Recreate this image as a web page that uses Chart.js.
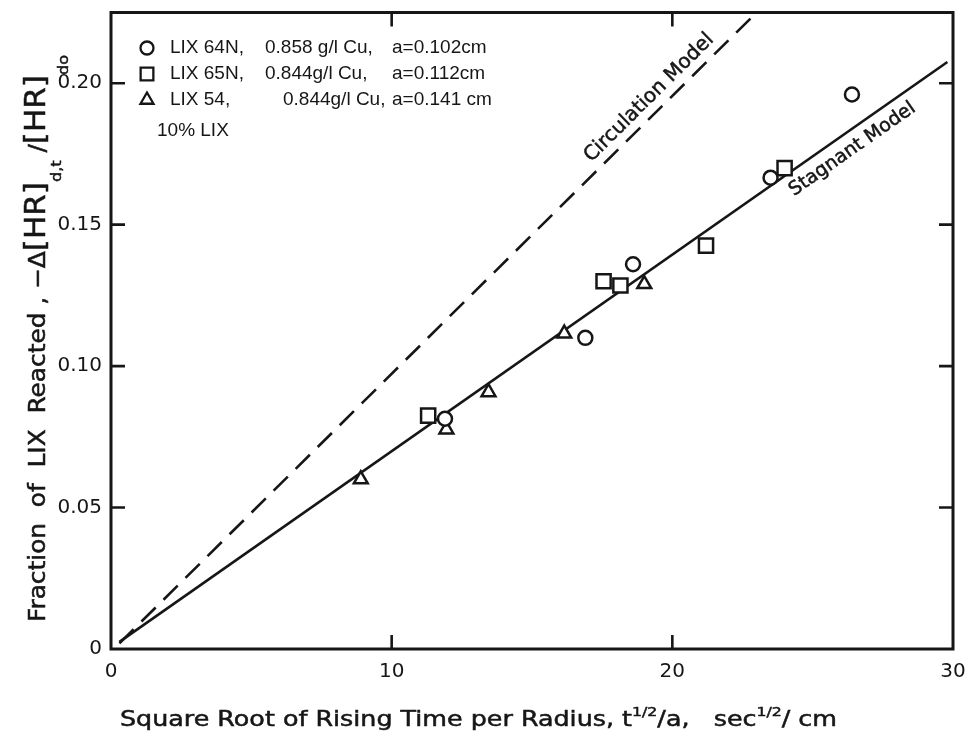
<!DOCTYPE html>
<html>
<head>
<meta charset="utf-8">
<script src="https://cdn.jsdelivr.net/npm/chart.js@4.4.1/dist/chart.umd.min.js"></script>
<style>
  html, body { margin: 0; padding: 0; background: #ffffff; }
  #wrap { width: 974px; height: 737px; }
</style>
</head>
<body>
<div id="wrap"><canvas id="c" width="974" height="737"></canvas></div>
<script>
// Axis ticks
const xTicks = [0, 10, 20, 30];
const xTickLabels = ['0', '10', '20', '30'];
const yTicks = [0, 0.05, 0.10, 0.15, 0.20];
const yTickLabels = ['0', '0.05', '0.10', '0.15', '0.20'];

// LIX 64N, 0.858 g/l Cu, a = 0.102 cm
const lix64nX = [11.9, 16.9, 18.6, 23.5, 26.4];
const lix64nY = [0.0814, 0.110, 0.136, 0.1666, 0.196];
// LIX 65N, 0.844 g/l Cu, a = 0.112 cm
const lix65nX = [11.3, 17.55, 18.15, 21.2, 24.0];
const lix65nY = [0.0825, 0.130, 0.1285, 0.1426, 0.170];
// LIX 54, 0.844 g/l Cu, a = 0.141 cm
const lix54X = [8.9, 11.95, 13.45, 16.15, 19.0];
const lix54Y = [0.060, 0.0776, 0.0908, 0.1115, 0.129];

// Model lines (end points)
const stagnantX = [0.3, 29.8];
const stagnantY = [0.0025, 0.2075];
const circulationX = [0.3, 22.95];
const circulationY = [0.002, 0.2245];

const INK = '#161616';
const FONT = '"Liberation Sans", Arial, sans-serif';
const TFONT = '"DejaVu Sans", "Liberation Sans", sans-serif';

const pts = (xs, ys) => xs.map((x, i) => ({ x: x, y: ys[i] }));

// Frame round the plot area and inward tick marks on all four sides
const framePlugin = {
  id: 'framePlugin',
  afterDatasetsDraw(chart) {
    const { ctx, chartArea: a, scales } = chart;
    ctx.save();
    ctx.strokeStyle = INK;
    ctx.lineWidth = 2.6;
    ctx.lineCap = 'butt';
    const len = 14;
    ctx.beginPath();
    xTicks.slice(1, -1).forEach(v => {
      const px = scales.x.getPixelForValue(v);
      ctx.moveTo(px, a.bottom); ctx.lineTo(px, a.bottom - len);
      ctx.moveTo(px, a.top); ctx.lineTo(px, a.top + len);
    });
    yTicks.slice(1).forEach(v => {
      const py = scales.y.getPixelForValue(v);
      ctx.moveTo(a.left, py); ctx.lineTo(a.left + len, py);
      ctx.moveTo(a.right, py); ctx.lineTo(a.right - len, py);
    });
    ctx.stroke();
    ctx.lineWidth = 3;
    ctx.strokeRect(a.left, a.top, a.right - a.left, a.bottom - a.top);
    ctx.restore();
  }
};

// Text pieces with sub/superscripts, laid out along the current x direction
function setRunFont(ctx, r, base) {
  ctx.font = base * (r.scale || 1) + 'px ' + TFONT;
}
function runsWidth(ctx, runs, base) {
  let w = 0;
  runs.forEach(r => { setRunFont(ctx, r, base); w += ctx.measureText(r.t).width; });
  return w;
}
function drawRuns(ctx, runs, base) {
  let cx = 0;
  runs.forEach(r => {
    setRunFont(ctx, r, base);
    const y = (r.dy || 0) * base;
    ctx.fillText(r.t, cx, y);
    ctx.strokeText(r.t, cx, y);
    cx += ctx.measureText(r.t).width;
  });
}
// Draw runs starting at (x, y) in a frame rotated by ang, stretched to a given length
function drawTitle(ctx, runs, base, x, y, ang, length) {
  const w = runsWidth(ctx, runs, base);
  ctx.save();
  ctx.translate(x, y);
  ctx.rotate(ang);
  ctx.scale(length / w, 1);
  ctx.lineWidth = 0.5;
  drawRuns(ctx, runs, base);
  ctx.restore();
}

const xTitleRuns = [
  { t: 'Square Root of Rising Time per Radius, t' },
  { t: '1/2', scale: 0.62, dy: -0.5 },
  { t: '/a,   sec' },
  { t: '1/2', scale: 0.62, dy: -0.5 },
  { t: '/ cm' }
];
const yTitleRuns = [
  { t: 'Fraction  of  LIX  Reacted , \u2212\u0394' },
  { t: '[HR]', scale: 1.25 },
  { t: 'd,t', scale: 0.65, dy: 0.7 },
  { t: ' /' },
  { t: '[HR]', scale: 1.25 },
  { t: 'do', scale: 0.65, dy: 1.0 }
];

const legendRows = [
  { style: 'circle', r: 6.5, parts: [['LIX 64N,', 170], ['0.858 g/l Cu,', 265], ['a=0.102cm', 392]] },
  { style: 'rect', r: 9, parts: [['LIX 65N,', 170], ['0.844g/l Cu,', 265], ['a=0.112cm', 392]] },
  { style: 'triangle', r: 7.5, parts: [['LIX 54,', 170], ['0.844g/l Cu,', 283], ['a=0.141 cm', 392]] }
];
const legendNote = '10% LIX';

const textPlugin = {
  id: 'textPlugin',
  afterDraw(chart) {
    const { ctx, scales } = chart;
    ctx.save();
    ctx.fillStyle = INK;
    ctx.strokeStyle = INK;
    ctx.textBaseline = 'alphabetic';
    ctx.textAlign = 'left';

    // axis titles
    drawTitle(ctx, xTitleRuns, 21, 120, 726, 0, 717);
    drawTitle(ctx, yTitleRuns, 23, 45, 622, -Math.PI / 2, 567);

    // legend block
    const rowY = [48, 74, 100];
    ctx.font = '19px ' + FONT;
    ctx.textBaseline = 'middle';
    ctx.lineWidth = 2.3;
    legendRows.forEach((row, i) => {
      ctx.fillStyle = '#ffffff';
      Chart.helpers.drawPoint(ctx, { pointStyle: row.style, radius: row.r, rotation: 0, borderWidth: 2.3 }, 147, rowY[i]);
      ctx.fillStyle = INK;
      row.parts.forEach(p => ctx.fillText(p[0], p[1], rowY[i]));
    });
    ctx.fillText(legendNote, 157, 131);

    // model labels along their lines
    const lineLabel = (xs, ys, atX, text, offset, size) => {
      const x0 = scales.x.getPixelForValue(xs[0]), y0 = scales.y.getPixelForValue(ys[0]);
      const x1 = scales.x.getPixelForValue(xs[1]), y1 = scales.y.getPixelForValue(ys[1]);
      const ang = Math.atan2(y1 - y0, x1 - x0);
      const f = (atX - xs[0]) / (xs[1] - xs[0]);
      ctx.save();
      ctx.translate(x0 + f * (x1 - x0), y0 + f * (y1 - y0));
      ctx.rotate(ang);
      ctx.textAlign = 'center';
      ctx.textBaseline = 'middle';
      ctx.font = size + 'px ' + TFONT;
      ctx.lineWidth = 0.5;
      ctx.fillText(text, 0, offset);
      ctx.strokeText(text, 0, offset);
      ctx.restore();
    };
    lineLabel(circulationX, circulationY, 19.55, 'Circulation Model', -15, 20);
    lineLabel(stagnantX, stagnantY, 26.07, 'Stagnant Model', 17, 19);
    ctx.restore();
  }
};

const markerBase = { backgroundColor: '#ffffff', borderColor: INK, pointBorderWidth: 2.5, showLine: false, order: 1 };

new Chart(document.getElementById('c'), {
  type: 'scatter',
  data: {
    datasets: [
      { label: 'Circulation Model', data: pts(circulationX, circulationY), showLine: true,
        borderColor: INK, borderWidth: 2.6, borderDash: [20, 11], pointRadius: 0, order: 3 },
      { label: 'Stagnant Model', data: pts(stagnantX, stagnantY), showLine: true,
        borderColor: INK, borderWidth: 2.6, pointRadius: 0, order: 2 },
      Object.assign({ label: 'LIX 64N', data: pts(lix64nX, lix64nY), pointStyle: 'circle', pointRadius: 7 }, markerBase),
      Object.assign({ label: 'LIX 65N', data: pts(lix65nX, lix65nY), pointStyle: 'rect', pointRadius: 10 }, markerBase),
      Object.assign({ label: 'LIX 54', data: pts(lix54X, lix54Y), pointStyle: 'triangle', pointRadius: 8 }, markerBase)
    ]
  },
  options: {
    responsive: false,
    devicePixelRatio: 1,
    animation: false,
    layout: { padding: { left: 0, top: 9, right: 21, bottom: 0 } },
    plugins: { legend: { display: false }, tooltip: { enabled: false } },
    scales: {
      x: {
        type: 'linear', min: 0, max: 30,
        afterBuildTicks: s => { s.ticks = xTicks.map(v => ({ value: v })); },
        afterFit: s => { s.height = 88; s.paddingLeft = 0; s.paddingRight = 0; },
        grid: { display: false, drawTicks: false },
        border: { display: false },
        ticks: { padding: 11, maxRotation: 0, color: INK, font: { family: TFONT, size: 20 },
          callback: (v, i) => xTickLabels[i] }
      },
      y: {
        type: 'linear', min: 0, max: 0.225,
        afterBuildTicks: s => { s.ticks = yTicks.map(v => ({ value: v })); },
        afterFit: s => { s.width = 111; s.paddingTop = 0; s.paddingBottom = 0; },
        grid: { display: false, drawTicks: false },
        border: { display: false },
        ticks: { padding: 9, color: INK, font: { family: TFONT, size: 20 },
          callback: (v, i) => yTickLabels[i] }
      }
    }
  },
  plugins: [framePlugin, textPlugin]
});
</script>
</body>
</html>
